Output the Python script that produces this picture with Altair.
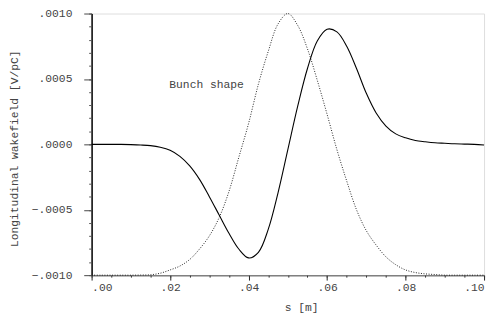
import altair as alt
import pandas as pd

# positions along the bunch, s [m]
s_values = [0.0000, 0.0025, 0.0050, 0.0075, 0.0100, 0.0125, 0.0150, 0.0175,
            0.0200, 0.0225, 0.0250, 0.0275, 0.0300, 0.0325, 0.0350, 0.0375,
            0.0400, 0.0425, 0.0450, 0.0475, 0.0500, 0.0525, 0.0550, 0.0575,
            0.0600, 0.0625, 0.0650, 0.0675, 0.0700, 0.0725, 0.0750, 0.0775,
            0.0800, 0.0825, 0.0850, 0.0875, 0.0900, 0.0925, 0.0950, 0.0975,
            0.1000]

# longitudinal wakefield [V/pC]
wake_values = [0.0, 0.0, 0.0, 0.0, -0.000002, -0.000005, -0.00001, -0.000022,
               -0.000045, -0.000092, -0.000165, -0.000268, -0.000400, -0.00054,
               -0.00068, -0.00080, -0.000868, -0.000825, -0.00065, -0.00037,
               -0.00004, 0.00029, 0.00058, 0.00079, 0.00088, 0.00086, 0.00075,
               0.00058, 0.00039, 0.00024, 0.00014, 0.00008, 0.00005, 0.00003,
               0.00002, 0.000012, 0.000008, 0.000004, 0.000002, 0.0, -0.000005]

# bunch shape (scaled to the axis range)
bunch_values = [-0.001, -0.001, -0.001, -0.001, -0.001, -0.000999, -0.000997,
                -0.000985, -0.00096, -0.00093, -0.00088, -0.0008, -0.0007,
                -0.00056, -0.00036, -0.0001, 0.00016, 0.00046, 0.00071, 0.00092,
                0.001, 0.00091, 0.00073, 0.00049, 0.00023, -0.00004, -0.00028,
                -0.0005, -0.00066, -0.00077, -0.00086, -0.00092, -0.00096,
                -0.00098, -0.00099, -0.000995, -0.001, -0.001, -0.001, -0.001,
                -0.001]

x_major = [0.00, 0.02, 0.04, 0.06, 0.08, 0.10]
x_minor = [round(i * 0.005, 3) for i in range(21)]
y_major = [-0.001, -0.0005, 0.0, 0.0005, 0.001]
y_minor = [round(-0.001 + i * 0.0001, 4) for i in range(21)]

label_text = ["Bunch shape"]
label_s = [0.0198]
label_v = [0.00045]

FONT = "Liberation Mono"
TXT = "#444444"

df = pd.DataFrame({"s": s_values, "wake": wake_values, "bunch": bunch_values})
lab = pd.DataFrame({"s": label_s, "v": label_v, "t": label_text})

xscale = alt.Scale(domain=[0, 0.1], nice=False, zero=False)
yscale = alt.Scale(domain=[-0.001, 0.001], nice=False, zero=False)

wake = alt.Chart(df).mark_line(color="black", strokeWidth=1.1, interpolate="catmull-rom").encode(
    x=alt.X("s:Q", scale=xscale, axis=alt.Axis(
        orient="bottom",
        values=x_major, labelExpr="replace(format(datum.value, '.2f'), '0.', '.')",
        title="s [m]", titleX=213, titleY=33, titleBaseline="middle", titleAlign="center",
        tickSize=5, tickColor="#222222", tickWidth=1, labelPadding=2,
        domainColor="#808080", domainWidth=1.5, grid=False,
        labelFont=FONT, labelFontSize=11.5, labelColor=TXT,
        titleFont=FONT, titleFontSize=11.5, titleColor=TXT, titleFontWeight="normal")),
    y=alt.Y("wake:Q", scale=yscale, axis=alt.Axis(
        orient="left",
        values=y_major, labelExpr="replace(format(datum.value, '.4f'), '0.', '.')",
        title="Longitudinal wakefield [V/pC]", titleX=-78, titleY=137, titleAngle=270,
        titleBaseline="middle", titleAlign="center",
        tickSize=8, tickColor="#444444", tickWidth=1, labelPadding=12,
        domainColor="black", domainWidth=1.5, grid=False,
        labelFont=FONT, labelFontSize=11.5, labelColor=TXT,
        titleFont=FONT, titleFontSize=11.5, titleColor=TXT, titleFontWeight="normal")),
)

bunch = alt.Chart(df).mark_line(color="#222222", strokeWidth=1, strokeDash=[1, 1.6],
                                interpolate="catmull-rom").encode(
    x=alt.X("s:Q", scale=xscale, axis=alt.Axis(
        orient="bottom",
        values=x_minor, labels=False, title=None, tickSize=2, tickColor="#333333",
        domain=False, grid=False)),
    y=alt.Y("bunch:Q", scale=yscale, axis=alt.Axis(
        orient="left",
        values=y_minor, labels=False, title=None, tickSize=3, tickColor="#555555",
        domain=False, grid=False)),
)

text = alt.Chart(lab).mark_text(align="left", baseline="middle", font=FONT,
                                fontSize=11.5, color=TXT).encode(
    x=alt.X("s:Q", scale=xscale, axis=None),
    y=alt.Y("v:Q", scale=yscale, axis=None),
    text="t:N",
)

chart = alt.layer(wake, bunch, text).resolve_axis(x="independent", y="independent").properties(
    width=399, height=266,
    autosize=alt.AutoSizeParams(type="none"),
    padding={"left": 85, "top": 3, "right": 4, "bottom": 46},
).configure_view(stroke="#808080", strokeWidth=1.5).configure(background="white")

chart.save("out.html", embed_options={"renderer": "svg", "actions": False})
